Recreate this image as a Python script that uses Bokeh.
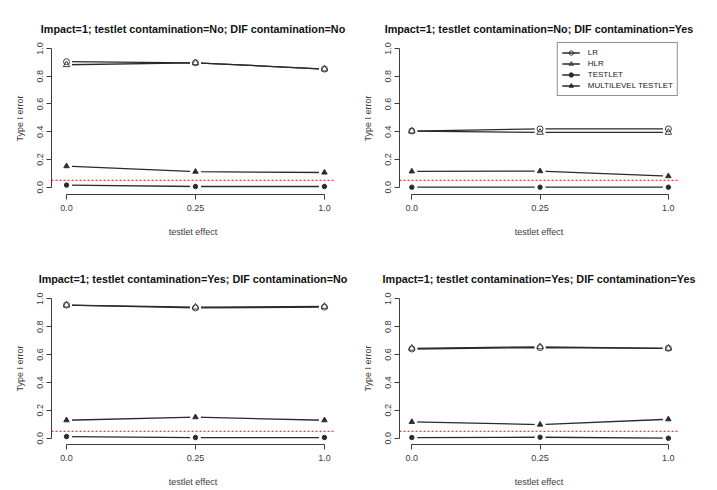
from bokeh.plotting import figure
from bokeh.layouts import gridplot
from bokeh.models import Range1d, FixedTicker, Span, Legend, LegendItem
from bokeh.embed import file_html
from bokeh.resources import INLINE

# ---- data ----
effects = ["0.0", "0.25", "1.0"]
series_names = ["LR", "HLR", "TESTLET", "MULTILEVEL TESTLET"]
titles = [
    "Impact=1; testlet contamination=No; DIF contamination=No",
    "Impact=1; testlet contamination=No; DIF contamination=Yes",
    "Impact=1; testlet contamination=Yes; DIF contamination=No",
    "Impact=1; testlet contamination=Yes; DIF contamination=Yes",
]
# values per panel (panel order: top-left, top-right, bottom-left, bottom-right)
lr = [
    [0.905, 0.897, 0.852],
    [0.405, 0.420, 0.420],
    [0.955, 0.935, 0.940],
    [0.640, 0.650, 0.645],
]
hlr = [
    [0.883, 0.897, 0.852],
    [0.405, 0.395, 0.395],
    [0.955, 0.940, 0.945],
    [0.645, 0.655, 0.645],
]
testlet = [
    [0.015, 0.005, 0.005],
    [0.000, 0.000, 0.000],
    [0.012, 0.005, 0.005],
    [0.005, 0.007, 0.000],
]
multilevel = [
    [0.152, 0.112, 0.106],
    [0.114, 0.116, 0.080],
    [0.129, 0.151, 0.129],
    [0.117, 0.098, 0.136],
]
alpha_level = 0.05
y_ticks = [0.0, 0.2, 0.4, 0.6, 0.8, 1.0]

FONT = "Liberation Sans"
AX = "#3c3c3c"
LINE = "#2a2a2a"

styles = [
    dict(marker="circle", fill=False, size=6),
    dict(marker="triangle", fill=False, size=6.5),
    dict(marker="circle", fill=True, size=4.5),
    dict(marker="triangle", fill=True, size=5.5),
]


def make_panel(idx, width, height, left, right, top, bottom, xr, yr, legend=False):
    p = figure(width=width, height=height, output_backend="svg",
               toolbar_location=None, min_border_left=left,
               min_border_right=right, min_border_top=top,
               min_border_bottom=bottom,
               x_range=Range1d(*xr), y_range=Range1d(*yr))
    p.outline_line_color = None
    p.grid.visible = False
    p.background_fill_color = "white"
    p.border_fill_color = "white"

    p.title.text = titles[idx]
    p.title.align = "center"
    p.title.text_font = FONT
    p.title.text_font_size = "10.8px"
    p.title.text_font_style = "bold"
    p.title.text_color = "#111111"
    p.title.standoff = 15

    xs = list(range(len(effects)))
    xa = p.xaxis[0]
    xa.ticker = FixedTicker(ticks=xs)
    xa.major_label_overrides = {i: s for i, s in enumerate(effects)}
    xa.bounds = (xs[0], xs[-1])
    xa.axis_label = "testlet effect"
    ya = p.yaxis[0]
    ya.ticker = FixedTicker(ticks=y_ticks)
    ya.major_label_overrides = {t: f"{t:.1f}" for t in y_ticks}
    ya.bounds = (y_ticks[0], y_ticks[-1])
    ya.axis_label = "Type I error"
    ya.major_label_orientation = "vertical"
    for ax in (xa, ya):
        ax.axis_line_color = AX
        ax.major_tick_line_color = AX
        ax.minor_tick_line_color = None
        ax.major_tick_in = 0
        ax.major_tick_out = 5
        ax.major_label_text_font = FONT
        ax.major_label_text_font_size = "9px"
        ax.major_label_text_color = AX
        ax.axis_label_text_font = FONT
        ax.axis_label_text_font_size = "9px"
        ax.axis_label_text_font_style = "normal"
        ax.axis_label_text_color = AX
    xa.major_label_standoff = 5
    xa.axis_label_standoff = 13
    ya.major_label_standoff = 3
    ya.axis_label_standoff = 10

    data = [lr[idx], hlr[idx], testlet[idx], multilevel[idx]]
    lines, marks = [], []
    for vals in data:
        lines.append(p.line(xs, vals, line_color=LINE, line_width=1.3))
    for vals in data:
        p.scatter(xs, vals, marker="circle", size=11, fill_color="white",
                  line_color=None)
    for vals, st in zip(data, styles):
        marks.append(p.scatter(xs, vals, marker=st["marker"], size=st["size"],
                               fill_color=LINE if st["fill"] else None,
                               line_color=LINE, line_width=0.9))

    p.add_layout(Span(location=alpha_level, dimension="width",
                      line_color="red", line_dash="2 2", line_width=1))

    if legend:
        items = [LegendItem(label=n, renderers=[l, m])
                 for n, l, m in zip(series_names, lines, marks)]
        lg = Legend(items=items, location="top_right", margin=0, padding=4,
                    spacing=0, label_height=11, glyph_height=11,
                    glyph_width=18, label_standoff=8,
                    label_text_font=FONT, label_text_font_size="8px",
                    label_text_color="#1a1a1a",
                    border_line_color="#222222", border_line_width=1,
                    background_fill_alpha=1)
        p.add_layout(lg)
    return p


yr_top = (-0.0526, 1.0433)
yr_bot = (-0.045, 1.045)
xr_left = (-0.1165, 2.078)
xr_right = (-0.096, 2.079)

p1 = make_panel(0, 358, 245, 51, 24, 42, 51, xr_left, yr_top)
p2 = make_panel(1, 359, 245, 41, 39, 42, 51, xr_right, yr_top, legend=True)
p3 = make_panel(2, 358, 245, 51, 24, 47, 46, xr_left, yr_bot)
p4 = make_panel(3, 359, 245, 41, 39, 47, 46, xr_right, yr_bot)

grid = gridplot([[p1, p2], [p3, p4]], toolbar_location=None)

open("out.html", "w").write(file_html(grid, INLINE))
